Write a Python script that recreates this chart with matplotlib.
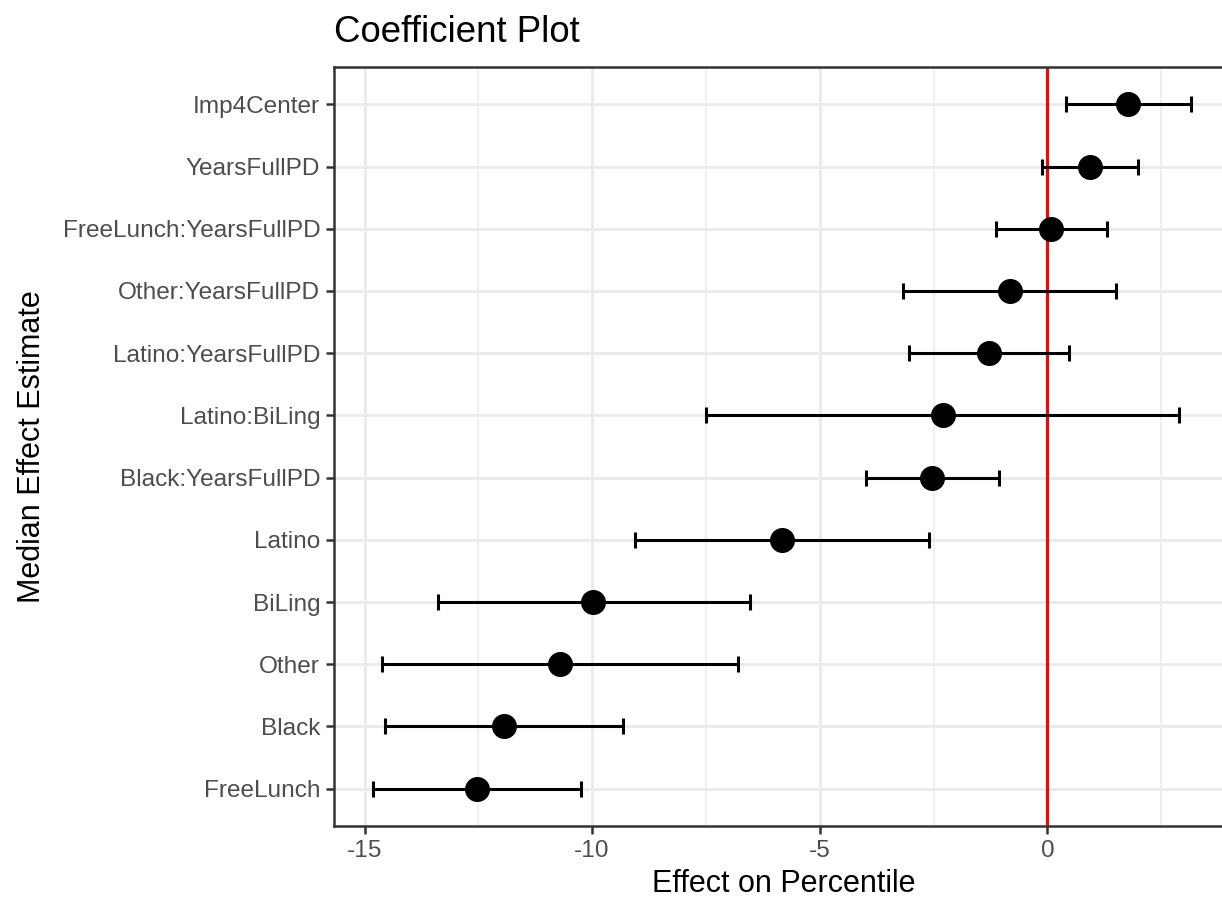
import numpy as np
import matplotlib
matplotlib.use("Agg")
import matplotlib.pyplot as plt

# Coefficient estimates (bottom to top)
terms = ["FreeLunch", "Black", "Other", "BiLing", "Latino", "Black:YearsFullPD",
         "Latino:BiLing", "Latino:YearsFullPD", "Other:YearsFullPD",
         "FreeLunch:YearsFullPD", "YearsFullPD", "Imp4Center"]
estimate = [-12.53, -11.94, -10.71, -9.97, -5.83, -2.53, -2.30, -1.29, -0.82, 0.09, 0.93, 1.78]
lower = [-14.82, -14.56, -14.62, -13.38, -9.05, -3.99, -7.49, -3.04, -3.16, -1.13, -0.11, 0.40]
upper = [-10.25, -9.32, -6.80, -6.54, -2.60, -1.07, 2.89, 0.47, 1.51, 1.32, 2.00, 3.16]

plt.rcParams['font.family'] = ['Liberation Sans', 'DejaVu Sans']

fig = plt.figure(figsize=(6.11, 4.49), dpi=200)
ax = fig.add_axes([334 / 1222, 1 - 826 / 898, 900 / 1222, (826 - 67) / 898])

ypos = np.arange(1, len(terms) + 1)
est = np.array(estimate)
lo = est - np.array(lower)
hi = np.array(upper) - est

# grid (theme_bw style)
for v in [-12.5, -7.5, -2.5, 2.5]:
    ax.axvline(v, color="#EBEBEB", lw=0.55, zorder=0)
for v in [-15, -10, -5, 0]:
    ax.axvline(v, color="#EBEBEB", lw=1.07, zorder=0)
for y in ypos:
    ax.axhline(y, color="#EBEBEB", lw=1.07, zorder=0)

ax.axvline(0, color="#FF0000", lw=1.1, zorder=1)
ax.errorbar(est, ypos, xerr=[lo, hi], fmt="none", ecolor="black",
            elinewidth=1.1, capsize=2.9, capthick=1.1, zorder=2)
ax.plot(est, ypos, "o", color="black", markersize=8, zorder=3)

ax.set_xlim(-15.67, 4.10)
ax.set_ylim(0.4, len(terms) + 0.6)
ax.set_yticks(ypos)
ax.set_yticklabels(terms)
ax.set_xticks([-15, -10, -5, 0])
ax.set_xticklabels(["-15", "-10", "-5", "0"])

for s in ax.spines.values():
    s.set_color("#333333")
    s.set_linewidth(0.9)
ax.tick_params(axis="both", colors="#333333", labelcolor="#4D4D4D",
               labelsize=8.8, length=2.75, width=0.9, pad=2.2)

ax.set_xlabel("Effect on Percentile", fontsize=11, color="black", labelpad=2.5)
ax.set_ylabel("Median Effect Estimate", fontsize=11, color="black", labelpad=5.5)
fig.text(334 / 1222, 1 - 32 / 898, "Coefficient Plot", fontsize=13.2,
         ha="left", va="center")

fig.savefig("out.png", dpi=200)
